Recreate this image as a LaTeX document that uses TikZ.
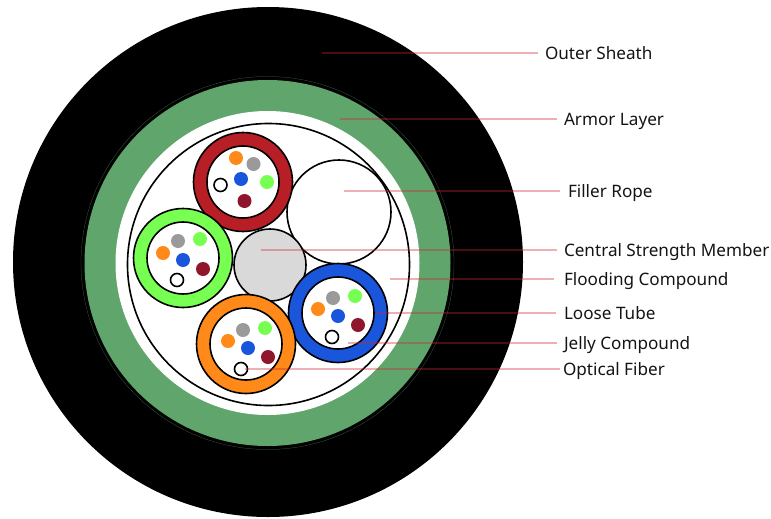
\documentclass[tikz,border=0pt]{standalone}
\usepackage{fontspec}
\setmainfont{Noto Sans}
\definecolor{armor}{RGB}{96,165,107}
\definecolor{tred}{RGB}{184,30,38}
\definecolor{tgreen}{RGB}{119,255,81}
\definecolor{tblue}{RGB}{26,86,219}
\definecolor{torange}{RGB}{255,138,26}
\definecolor{fgrey}{RGB}{154,154,154}
\definecolor{fmaroon}{RGB}{143,22,44}
\definecolor{strength}{RGB}{217,217,217}
\definecolor{leader}{RGB}{205,40,50}
\tikzset{
  x=0.75pt,y=-0.75pt,
  disc/.style={circle,inner sep=0pt,outer sep=0pt,minimum size=#1*0.75pt},
  ring/.style={disc=#1,draw=black,line width=1.2pt},
  dotf/.style={disc=14,fill=#1},
  wfib/.style={disc=13,fill=white,draw=black,line width=1.2pt},
  lab/.style={inner sep=0pt,outer sep=0pt,anchor=west,font=\fontsize{12.85pt}{15pt}\selectfont,text height=12pt,text depth=3pt,text=black!92},
  leaderline/.style={draw=leader,opacity=.36,line width=1.5pt,shorten >=#1*0.75pt},
  leaderline/.default=7
}
\begin{document}
\begin{tikzpicture}
\useasboundingbox (0,0) rectangle (771,518);
% layers
\node[disc=510,fill=black] (sheath) at (268,262) {};
\node[disc=373,draw=armor!60!black,line width=.2pt] (gap) at (267.5,263) {};
\node[disc=366,fill=armor] (armor) at (267.5,263) {};
\node[disc=304,fill=white] (flood) at (267.5,263) {};
\node[ring=282,fill=white] (core) at (268.5,264.5) {};
% filler and strength member
\node[ring=104,fill=white] (filler) at (339,212) {};
\node[ring=72,fill=strength] (csm) at (270,265) {};
% red tube
\node[ring=99,fill=tred] (t1) at (243,182) {};
\node[ring=72,fill=white] (t1i) at (243,182) {};
\node[dotf=torange] (a1) at (236,158) {};
\node[dotf=fgrey] (a2) at (253.5,164) {};
\node[dotf=tblue] (a3) at (241,179) {};
\node[dotf=tgreen] (a4) at (267,182) {};
\node[dotf=fmaroon] (a5) at (244.5,201) {};
\node[wfib] (a6) at (220.5,185) {};
% green tube
\node[ring=99,fill=tgreen] (t2) at (183,258) {};
\node[ring=72,fill=white] (t2i) at (183,258) {};
\node[dotf=torange] (b1) at (163,253) {};
\node[dotf=fgrey] (b2) at (178,241) {};
\node[dotf=tblue] (b3) at (183,260) {};
\node[dotf=tgreen] (b4) at (200,239) {};
\node[dotf=fmaroon] (b5) at (203,269) {};
\node[wfib] (b6) at (177,280) {};
% blue tube
\node[ring=99,fill=tblue] (t3) at (338,313) {};
\node[ring=72,fill=white] (t3i) at (338,313) {};
\node[dotf=torange] (c1) at (318,309) {};
\node[dotf=fgrey] (c2) at (333,298) {};
\node[dotf=tblue] (c3) at (338,316) {};
\node[dotf=tgreen] (c4) at (355,296) {};
\node[dotf=fmaroon] (c5) at (358,325) {};
\node[wfib] (c6) at (332,337) {};
% orange tube
\node[ring=99,fill=torange] (t4) at (246,344) {};
\node[ring=72,fill=white] (t4i) at (246,344) {};
\node[dotf=torange] (d1) at (228,341) {};
\node[dotf=fgrey] (d2) at (243,330) {};
\node[dotf=tblue] (d3) at (248,348) {};
\node[dotf=tgreen] (d4) at (265,328) {};
\node[dotf=fmaroon] (d5) at (268,357) {};
\node[wfib] (d6) at (241,369) {};
% labels
\node[lab] (lOuter) at (545,53) {Outer Sheath};
\node[lab] (lArmor) at (564,119) {Armor Layer};
\node[lab] (lFiller) at (568,191) {Filler Rope};
\node[lab] (lCsm) at (564,250) {Central Strength Member};
\node[lab] (lFlood) at (564,279) {Flooding Compound};
\node[lab] (lLoose) at (564,313) {Loose Tube};
\node[lab] (lJelly) at (564,343) {Jelly Compound};
\node[lab] (lFibre) at (563,369) {Optical Fiber};
% leader starts
\coordinate (sOuter) at (322,53);
\coordinate (sArmor) at (340,119);
\coordinate (sFiller) at (344,191);
\coordinate (sCsm) at (261,250);
\coordinate (sFlood) at (390,279);
\coordinate (sLoose) at (375,313);
\coordinate (sJelly) at (348,343);
\coordinate (sFibre) at (245,369);
\draw[leaderline] (sOuter) -- (lOuter.west);
\draw[leaderline] (sArmor) -- (lArmor.west);
\draw[leaderline=8] (sFiller) -- (lFiller.west);
\draw[leaderline] (sCsm) -- (lCsm.west);
\draw[leaderline=10] (sFlood) -- (lFlood.west);
\draw[leaderline=8] (sLoose) -- (lLoose.west);
\draw[leaderline] (sJelly) -- (lJelly.west);
\draw[leaderline=3] (sFibre) -- (lFibre.west);
\end{tikzpicture}
\end{document}
